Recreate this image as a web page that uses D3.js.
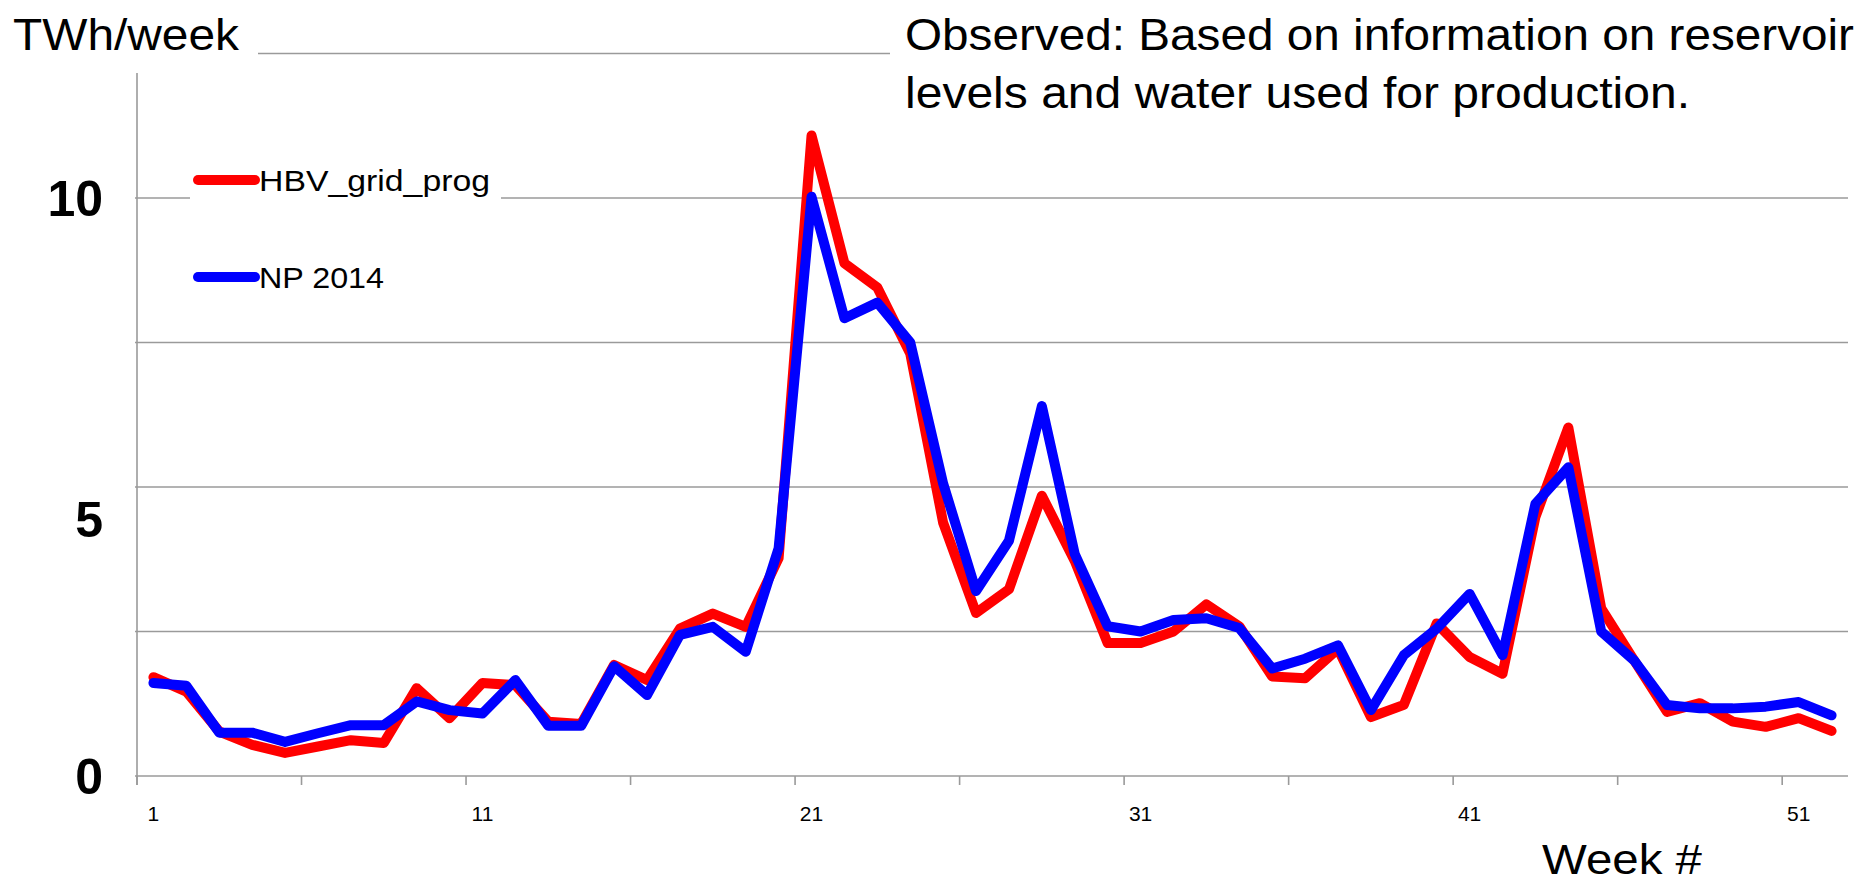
<!DOCTYPE html>
<html lang="en">
<head>
<meta charset="UTF-8">
<title>Weekly inflow, TWh/week</title>
<script src="https://d3js.org/d3.v7.min.js"></script>
<style>
  body { margin: 0; background: #fff; }
  text { font-family: "Liberation Sans", Arial, sans-serif; fill: #000; }
</style>
</head>
<body>
<div id="chart"></div>
<script>
// week numbers on the category axis
const weeks = d3.range(1, 53);

// HBV_grid_prog (red)
const hbv = [1.71, 1.46, 0.77, 0.54, 0.40, 0.51, 0.62, 0.57, 1.52, 1.00,
             1.61, 1.57, 0.94, 0.90, 1.92, 1.66, 2.55, 2.81, 2.58, 3.77,
             11.08, 8.87, 8.45, 7.31, 4.38, 2.82, 3.23, 4.85, 3.72, 2.30,
             2.30, 2.50, 2.97, 2.59, 1.72, 1.69, 2.20, 1.02, 1.23, 2.64,
             2.06, 1.77, 4.48, 6.03, 2.90, 2.00, 1.11, 1.26, 0.94, 0.85,
             1.00, 0.78];

// NP 2014 (blue)
const np2014 = [1.61, 1.56, 0.75, 0.75, 0.59, 0.74, 0.88, 0.88, 1.29, 1.14,
                1.08, 1.66, 0.87, 0.87, 1.90, 1.40, 2.44, 2.58, 2.15, 3.94,
                10.02, 7.92, 8.19, 7.50, 5.06, 3.20, 4.07, 6.40, 3.84, 2.59,
                2.50, 2.70, 2.73, 2.56, 1.86, 2.03, 2.26, 1.14, 2.09, 2.55,
                3.15, 2.09, 4.71, 5.34, 2.50, 2.00, 1.23, 1.17, 1.17, 1.20,
                1.28, 1.05];

const seriesNames = ["HBV_grid_prog", "NP 2014"];
const seriesColors = ["#ff0000", "#0000ff"];

const gridValues = [2.5, 5, 7.5, 10, 12.5];
const yLabels = [0, 5, 10];
const xLabels = [1, 11, 21, 31, 41, 51];
const xTickEvery = 5;

const W = 1868, H = 885;

const svg = d3.select("#chart").append("svg")
  .attr("width", W)
  .attr("height", H);

// scales: categories sit in the middle of their slot
const x = d3.scaleLinear().domain([0.5, 52.5]).range([137, 1848]);
const y = d3.scaleLinear().domain([0, 12.5]).range([776, 53.5]);

// gridlines
svg.append("g").selectAll("line")
  .data(gridValues)
  .join("line")
  .attr("x1", x.range()[0] - 2)
  .attr("x2", x.range()[1])
  .attr("y1", d => y(d))
  .attr("y2", d => y(d))
  .attr("stroke", "#9a9a9a")
  .attr("stroke-width", 1.6);

// y axis line + x axis line
svg.append("line")
  .attr("x1", x(0.5)).attr("x2", x(0.5))
  .attr("y1", y(12.5)).attr("y2", y(0) + 9)
  .attr("stroke", "#9a9a9a").attr("stroke-width", 1.6);
svg.append("line")
  .attr("x1", x(0.5) - 2).attr("x2", x(52.5))
  .attr("y1", y(0)).attr("y2", y(0))
  .attr("stroke", "#9a9a9a").attr("stroke-width", 1.6);

// x tick marks between categories, every 5 weeks
const tickPos = d3.range(0.5, 52, xTickEvery);
svg.append("g").selectAll("line")
  .data(tickPos)
  .join("line")
  .attr("x1", d => x(d)).attr("x2", d => x(d))
  .attr("y1", y(0)).attr("y2", y(0) + 9)
  .attr("stroke", "#9a9a9a").attr("stroke-width", 1.6);

// x tick labels
svg.append("g").selectAll("text")
  .data(xLabels)
  .join("text")
  .attr("x", d => x(d))
  .attr("y", y(0) + 45)
  .attr("text-anchor", "middle")
  .style("font-size", "21px")
  .text(d => d);

// y labels (big, bold); the "5" sits a bit low in the original
svg.append("g").selectAll("text")
  .data(yLabels)
  .join("text")
  .attr("x", 103)
  .attr("y", d => y(d))
  .attr("dy", d => d === 5 ? 50 : 18)
  .attr("text-anchor", "end")
  .style("font-size", "50px")
  .style("font-weight", "bold")
  .text(d => d);

// lines
const line = d3.line()
  .x((d, i) => x(weeks[i]))
  .y(d => y(d));

[hbv, np2014].forEach((s, k) => {
  svg.append("path")
    .datum(s)
    .attr("d", line)
    .attr("fill", "none")
    .attr("stroke", seriesColors[k])
    .attr("stroke-width", 10)
    .attr("stroke-linejoin", "round")
    .attr("stroke-linecap", "round");
});

// legend box (white, hides the gridline behind it)
const legend = svg.append("g");
legend.append("rect")
  .attr("x", 190).attr("y", 150)
  .attr("width", 311).attr("height", 150)
  .attr("fill", "#fff");

const legendRows = legend.selectAll("g")
  .data(seriesNames)
  .join("g")
  .attr("transform", (d, i) => `translate(198, ${180 + i * 97})`);

legendRows.append("line")
  .attr("x1", 0).attr("x2", 57)
  .attr("stroke", (d, i) => seriesColors[i])
  .attr("stroke-width", 10)
  .attr("stroke-linecap", "round");

legendRows.append("text")
  .attr("x", 61)
  .attr("y", 11)
  .style("font-size", "30px")
  .attr("textLength", (d, i) => i === 0 ? 231 : 125)
  .attr("lengthAdjust", "spacingAndGlyphs")
  .text(d => d);

// unit title
svg.append("rect")
  .attr("x", 0).attr("y", 0)
  .attr("width", 258).attr("height", 73)
  .attr("fill", "#fff");
svg.append("text")
  .attr("x", 13).attr("y", 50)
  .style("font-size", "45px")
  .attr("textLength", 226)
  .attr("lengthAdjust", "spacingAndGlyphs")
  .text("TWh/week");

// note text, top right
svg.append("rect")
  .attr("x", 890).attr("y", 0)
  .attr("width", 978).attr("height", 125)
  .attr("fill", "#fff");
const note = ["Observed: Based on information on reservoir",
              "levels and water used for production."];
svg.append("g").selectAll("text")
  .data(note)
  .join("text")
  .attr("x", 905)
  .attr("y", (d, i) => 50 + i * 58)
  .style("font-size", "45px")
  .attr("textLength", (d, i) => i === 0 ? 949 : 785)
  .attr("lengthAdjust", "spacingAndGlyphs")
  .text(d => d);

// x axis title
svg.append("text")
  .attr("x", 1542).attr("y", 874)
  .style("font-size", "43px")
  .attr("textLength", 160)
  .attr("lengthAdjust", "spacingAndGlyphs")
  .text("Week #");
</script>
</body>
</html>
